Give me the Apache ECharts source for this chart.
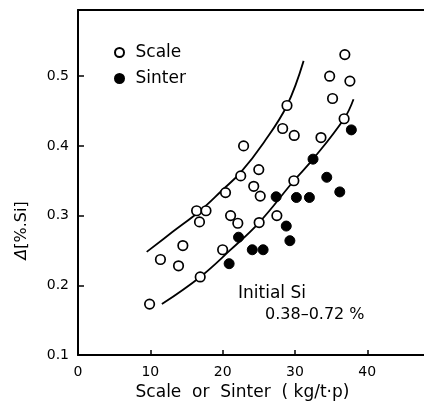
<!DOCTYPE html>
<html>
<head>
<meta charset="utf-8">
<script src="https://cdn.jsdelivr.net/npm/echarts@6/dist/echarts.min.js"></script>
<style>
  html, body { margin: 0; padding: 0; background: #fff; overflow: hidden; }
  #chart { width: 424px; height: 405px; }
</style>
</head>
<body>
<div id="chart"></div>
<script>
// open circles (Scale) and filled circles (Sinter): [kg/t-p, Δ%Si]
var scaleData = [
  [9.9, 0.173], [11.4, 0.237], [13.9, 0.228], [14.5, 0.257], [16.9, 0.212],
  [16.4, 0.307], [17.7, 0.307], [16.8, 0.291], [20.0, 0.251], [20.4, 0.333],
  [21.1, 0.300], [22.1, 0.289], [22.5, 0.357], [22.9, 0.400], [24.3, 0.342],
  [25.0, 0.366], [25.2, 0.328], [25.05, 0.290], [27.5, 0.300], [28.3, 0.425],
  [28.9, 0.458], [29.9, 0.415], [29.85, 0.350], [33.6, 0.412], [34.8, 0.500],
  [35.2, 0.468], [36.8, 0.439], [36.9, 0.531], [37.6, 0.493]
];
var sinterData = [
  [20.9, 0.231], [22.2, 0.269], [24.1, 0.251], [25.6, 0.251], [27.4, 0.327],
  [28.8, 0.285], [29.3, 0.264], [30.2, 0.326], [32.0, 0.326], [32.5, 0.381],
  [34.4, 0.355], [36.2, 0.334], [37.8, 0.423]
];
// hand drawn trend curves
var upperCurve = [
  [9.5, 0.248], [13, 0.276], [16.9, 0.307], [19.9, 0.336], [22.5, 0.362],
  [25.7, 0.405], [28.9, 0.458], [31.2, 0.522]
];
var lowerCurve = [
  [11.6, 0.173], [16.9, 0.212], [21, 0.250], [25.05, 0.290], [29.85, 0.350],
  [32.5, 0.381], [36.8, 0.439], [38.1, 0.467]
];
var xTickLabels = ["0", "10", "20", "30", "40"];
var yTickLabels = ["0.1", "0.2", "0.3", "0.4", "0.5"];

var font = "DejaVu Sans";
var myChart = echarts.init(document.getElementById("chart"));
var option = {
  backgroundColor: "#fff",
  animation: false,
  textStyle: { fontFamily: font, color: "#000" },
  grid: { left: 78, right: -4, top: 10, bottom: 50, outerBoundsMode: "none", containLabel: false },
  legend: {
    orient: "vertical",
    left: 109,
    top: 39,
    itemGap: 9,
    itemWidth: 22,
    itemHeight: 9,
    data: ["Scale", "Sinter"],
    textStyle: { fontFamily: font, fontSize: 17, color: "#000" },
  },
  xAxis: [
    {
      type: "value",
      min: 0,
      max: 48.4,
      interval: 10,
      name: "Scale  or  Sinter  ( kg/t·p)",
      nameLocation: "middle",
      nameGap: 27,
      nameTextStyle: { fontFamily: font, fontSize: 17, color: "#000", padding: [0, 21, 0, 0] },
      axisLine: { show: true, lineStyle: { color: "#000", width: 2 } },
      axisTick: { show: true, inside: true, length: 5, lineStyle: { color: "#000", width: 1.5 } },
      axisLabel: {
        color: "#000", fontSize: 14, margin: 10, showMaxLabel: false,
        formatter: function (v) { return xTickLabels[v / 10] || ""; },
      },
      splitLine: { show: false },
    },
    {
      // top frame line
      type: "value",
      position: "top",
      min: 0,
      max: 48.4,
      axisLine: { show: true, lineStyle: { color: "#000", width: 2 } },
      axisTick: { show: false },
      axisLabel: { show: false },
      splitLine: { show: false },
    },
  ],
  yAxis: {
    type: "value",
    min: 0.1,
    max: 0.595,
    interval: 0.1,
    name: "{it|Δ}[%.Si]",
    nameLocation: "middle",
    nameRotate: 90,
    nameGap: 48,
    nameTextStyle: {
      fontFamily: font, fontSize: 16, color: "#000", padding: [0, 96, 0, 0],
      rich: { it: { fontStyle: "italic", fontFamily: font, fontSize: 16 } },
    },
    axisLine: { show: true, lineStyle: { color: "#000", width: 2 } },
    axisTick: { show: true, inside: true, length: 6, lineStyle: { color: "#000", width: 1.5 } },
    axisLabel: {
      color: "#000", fontSize: 14, margin: 9, showMaxLabel: false,
      formatter: function (v) { return yTickLabels[Math.round((v - 0.1) * 10)] || ""; },
    },
    splitLine: { show: false },
  },
  graphic: [
    { type: "text", left: 238, top: 285, style: { text: "Initial Si", fontFamily: font, fontSize: 17, fill: "#000" } },
    { type: "text", left: 265, top: 307, style: { text: "0.38–0.72 %", fontFamily: font, fontSize: 16, fill: "#000" } },
  ],
  series: [
    {
      type: "line",
      data: upperCurve,
      smooth: 0.4,
      showSymbol: false,
      silent: true,
      lineStyle: { color: "#000", width: 1.8 },
      z: 1,
    },
    {
      type: "line",
      data: lowerCurve,
      smooth: 0.4,
      showSymbol: false,
      silent: true,
      lineStyle: { color: "#000", width: 1.8 },
      z: 1,
    },
    {
      name: "Scale",
      type: "scatter",
      data: scaleData,
      symbol: "circle",
      symbolSize: 9.5,
      itemStyle: { color: "#fff", borderColor: "#000", borderWidth: 1.7, opacity: 1 },
      z: 3,
    },
    {
      name: "Sinter",
      type: "scatter",
      data: sinterData,
      symbol: "circle",
      symbolSize: 10,
      itemStyle: { color: "#000", borderColor: "#000", borderWidth: 1, opacity: 1 },
      z: 3,
    },
  ],
};
myChart.setOption(option);
window.addEventListener("resize", function () {
  myChart.resize();
});
</script>
</body>
</html>
